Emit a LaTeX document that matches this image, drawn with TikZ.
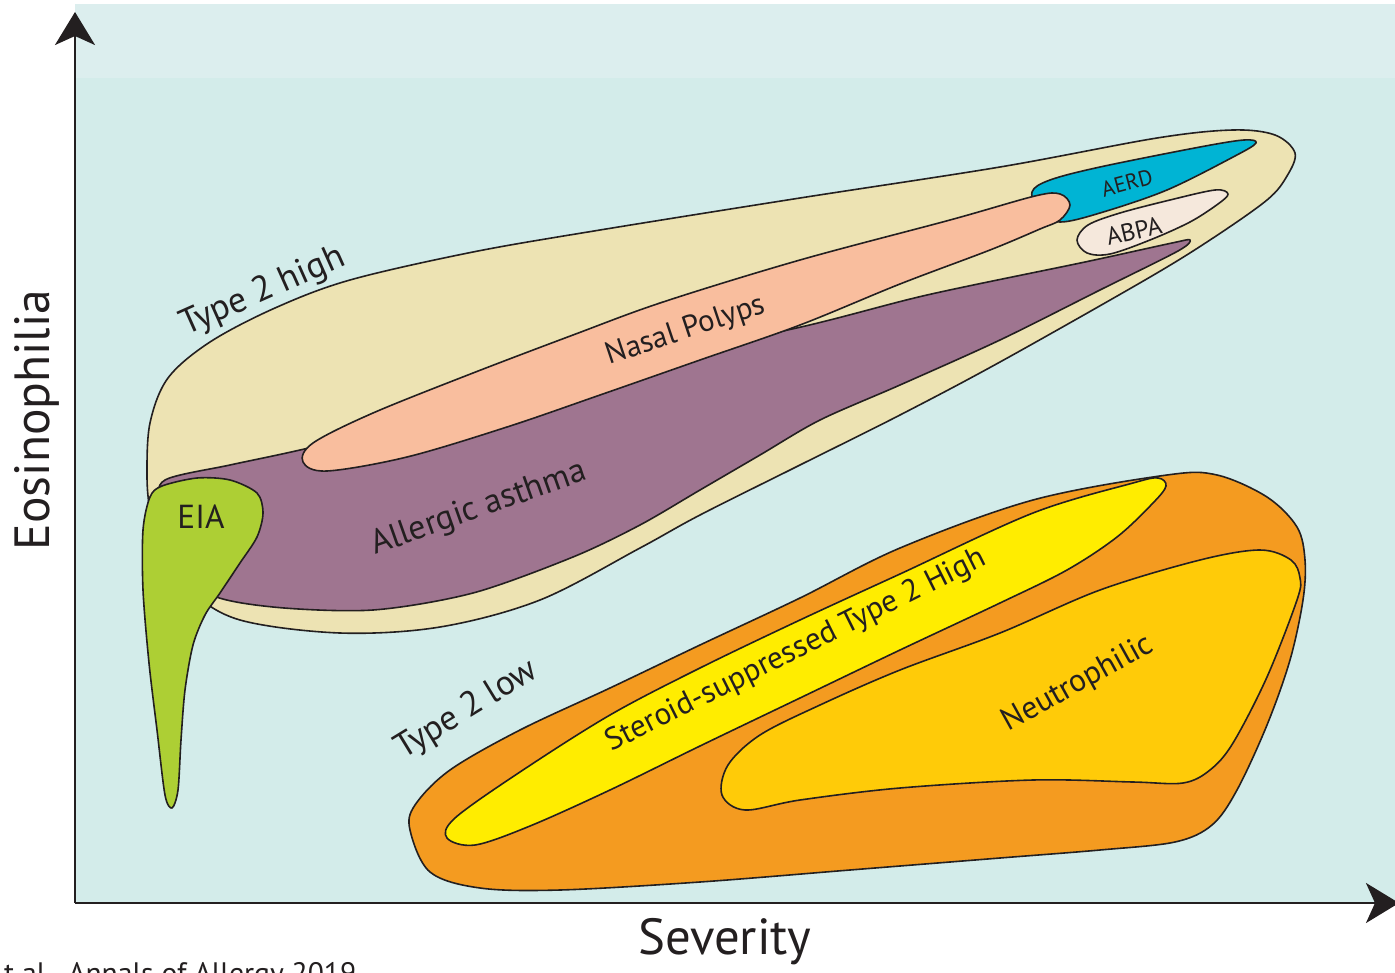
\documentclass[tikz,border=0pt]{standalone}
\usepackage{fontspec}
\usepackage{graphicx}
\setmainfont{PT Sans}
\usetikzlibrary{arrows.meta}
\definecolor{bgc}{HTML}{D3ECEA}
\definecolor{bandc}{HTML}{DCEEEE}
\definecolor{outl}{HTML}{231F20}
\definecolor{beige}{HTML}{EDE3B3}
\definecolor{purp}{HTML}{9F7590}
\definecolor{salm}{HTML}{F9BE9E}
\definecolor{aerdc}{HTML}{00B4D4}
\definecolor{abpac}{HTML}{F5E8DC}
\definecolor{eiac}{HTML}{ADCF34}
\definecolor{orng}{HTML}{F49B20}
\definecolor{yell}{HTML}{FFED00}
\definecolor{neut}{HTML}{FFCB08}
\tikzset{
  region/.style={draw=outl, line width=1.6, line join=round},
  lbl/.style={text=outl, inner sep=0pt, font=\rmfamily},
  axisline/.style={draw=outl, line width=2.6, -{Stealth[length=33, width=40, inset=9]}}
}
\newcommand{\fitw}[2]{\resizebox{#1pt}{!}{#2}}
\begin{document}
\begin{tikzpicture}[x=1pt, y=-1pt]
\useasboundingbox (0,0) rectangle (1395,972);
\clip (0,0) rectangle (1395,972);
% background
\fill[bgc] (75,4) rectangle (1395,903);
\fill[bandc] (75,4) rectangle (1395,78);

% Type 2 high (beige)
\draw[region, fill=beige] plot[smooth cycle, tension=0.55] coordinates {
 (147,475) (150,423) (168,378) (210,342) (275,308) (350,280) (473,252) (600,230)
 (800,198) (1000,167) (1157,138) (1233,130) (1275,135) (1295,153) (1287,176)
 (1267,200) (1210,240) (1145,280) (1000,362) (900,415) (800,465) (700,515)
 (640,548) (540,600) (440,627) (340,633) (240,620) (190,590) (160,545) (150,510)};

% Allergic asthma (purple)
\draw[region, fill=purp] plot[smooth cycle, tension=0.5] coordinates {
 (165,480) (230,465) (300,450) (450,415) (600,370) (801,327) (927,295) (1085,262)
 (1172,243) (1190,240) (1178,251) (1100,290) (1000,340) (900,385) (820,420)
 (760,455) (700,490) (640,525) (573,557) (473,593) (373,610) (273,607) (207,593)
 (172,550) (160,505)};

% AERD (blue)
\draw[region, fill=aerdc] plot[smooth cycle, tension=0.55] coordinates {
 (1032,192) (1050,180) (1100,167) (1200,147) (1244,140) (1256,143) (1235,156)
 (1167,190) (1100,213) (1060,222) (1040,212)};

% Nasal polyps (salmon)
\draw[region, fill=salm] plot[smooth cycle, tension=0.55] coordinates {
 (303,462) (313,443) (373,413) (473,373) (573,335) (663,302) (800,260) (950,220)
 (1035,196) (1060,194) (1070,205) (1060,220) (1040,229) (990,250) (900,284)
 (800,325) (700,360) (600,395) (507,427) (407,457) (327,471)};

% ABPA
\draw[region, fill=abpac] plot[smooth cycle, tension=0.55] coordinates {
 (1077,240) (1088,225) (1120,213) (1170,200) (1215,190) (1228,194) (1218,204)
 (1190,222) (1150,240) (1110,254) (1087,253)};

% EIA (green)
\draw[region, fill=eiac] plot[smooth cycle, tension=0.5] coordinates {
 (150,497) (162,486) (197,478) (230,480) (257,493) (263,513) (257,537) (240,563)
 (220,593) (205,615) (193,645) (185,690) (181,740) (178,790) (172,808) (165,795)
 (157,730) (149,663) (143,590) (143,530)};

% Type 2 low (orange)
\draw[region, fill=orng] plot[smooth cycle, tension=0.55] coordinates {
 (410,830) (415,805) (450,770) (520,730) (610,688) (700,645) (800,598) (900,548)
 (1033,500) (1167,475) (1217,475) (1267,497) (1297,527) (1305,560) (1303,600)
 (1290,660) (1267,725) (1237,790) (1212,825) (1175,842) (1100,850) (1000,858)
 (850,870) (700,882) (560,890) (480,888) (430,872)};

% Steroid-suppressed (yellow)
\draw[region, fill=yell] plot[smooth cycle, tension=0.55] coordinates {
 (447,838) (455,818) (520,772) (610,715) (700,668) (800,620) (900,574) (1033,513)
 (1133,483) (1158,478) (1166,486) (1153,503) (1117,537) (1067,570) (1000,603)
 (900,650) (800,698) (700,746) (610,790) (530,826) (475,845)};

% Neutrophilic
\draw[region, fill=neut] plot[smooth cycle, tension=0.55] coordinates {
 (722,795) (728,765) (760,735) (820,705) (900,670) (1000,633) (1100,590) (1200,560)
 (1260,550) (1291,560) (1300,578) (1297,600) (1267,677) (1233,743) (1210,770)
 (1183,783) (1133,782) (1033,780) (900,788) (800,800) (745,810)};

% axes
\coordinate (orig) at (75,903);
\coordinate (ytip) at (75,12);
\coordinate (xtip) at (1399,903);
\draw[axisline] (orig) -- (ytip);
\draw[axisline] (orig) -- (xtip);

% labels
\node[lbl, rotate=24] (t2h) at (263,292) {\fitw{176}{Type 2 high}};
\node[lbl, rotate=18.5] (np) at (686,331) {\fitw{166}{Nasal Polyps}};
\node[lbl, rotate=19.5] (aa) at (479,509) {\fitw{226}{Allergic asthma}};
\node[lbl] (eia) at (201,517) {\fitw{47}{EIA}};
\node[lbl, rotate=15] (aerd) at (1127,183) {\fitw{52}{AERD}};
\node[lbl, rotate=13] (abpa) at (1134,231) {\fitw{56}{ABPA}};
\node[lbl, rotate=31.5] (t2l) at (467,710) {\fitw{160}{Type 2 low}};
\node[lbl, rotate=26.5] (ss) at (796,651) {\fitw{420}{Steroid-suppressed Type 2 High}};
\node[lbl, rotate=29] (neu) at (1078,684) {\fitw{168}{Neutrophilic}};
\node[lbl, rotate=90] (eos) at (37,420) {\fitw{260}{Eosinophilia}};
\node[lbl] (sev) at (725,942) {\fitw{173}{Severity}};
\node[lbl, anchor=north west] (cite) at (4,962) {\fitw{352}{t al., Annals of Allergy 2019}};
\end{tikzpicture}
\end{document}
